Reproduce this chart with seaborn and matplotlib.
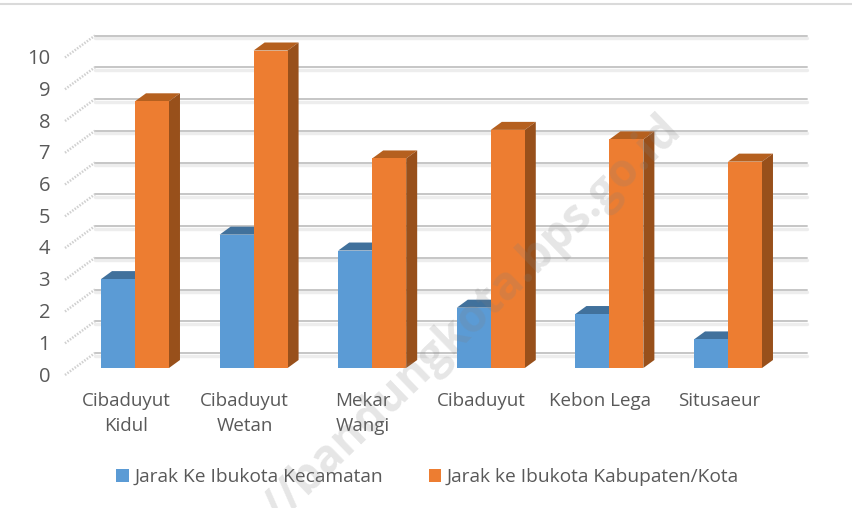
import pandas as pd
import numpy as np
import matplotlib
matplotlib.use('Agg')
import matplotlib.pyplot as plt
import matplotlib.transforms as mtrans
import seaborn as sns

# values
wilayah = ['Cibaduyut\nKidul', 'Cibaduyut\nWetan', 'Mekar\nWangi', 'Cibaduyut', 'Kebon Lega', 'Situsaeur']
jarak_kecamatan = [2.8, 4.2, 3.7, 1.9, 1.7, 0.9]
jarak_kota = [8.4, 10, 6.6, 7.5, 7.2, 6.5]
y_ticks = list(range(0, 11))
seri = ['Jarak Ke Ibukota Kecamatan', 'Jarak ke Ibukota Kabupaten/Kota']
warna = ['#5B9BD5', '#ED7D31']
warna_atas = ['#41719C', '#B5601F']
warna_sisi = ['#3F6E99', '#98501B']

sns.set_theme(style='white')
plt.rcParams['font.family'] = ['Open Sans', 'DejaVu Sans']

W, H = 853, 508
PX_X = 118.6   # pixels per category
PX_Y = 31.75   # pixels per unit
X0 = 135 - 0.5 * PX_X
Y0 = 368

df = pd.DataFrame({
    'wilayah': wilayah * 2,
    'jarak': jarak_kecamatan + jarak_kota,
    'seri': [seri[0]] * 6 + [seri[1]] * 6,
})

fig = plt.figure(figsize=(W / 100, H / 100), dpi=100)
ax = fig.add_axes([X0 / W, (H - Y0) / H, 6 * PX_X / W, 10 * PX_Y / H])

sns.barplot(data=df, x='wilayah', y='jarak', hue='seri', palette=warna, width=0.573,
            gap=0, saturation=1, linewidth=0, legend=False, ax=ax, zorder=3)
ax.set_xlim(-0.5, 5.5)
ax.set_ylim(0, 10)
ax.set_xlabel('')
ax.set_ylabel('')
sns.despine(ax=ax, left=True, bottom=True)
ax.patch.set_alpha(0)


def dx(px):
    return px / PX_X


def dy(px):
    return px / PX_Y


# back wall: gridlines and the dotted side wall lines
x_kiri = -0.5 + dx(95 - X0)
x_kanan = -0.5 + dx(807 - X0)
for v in y_ticks:
    ax.plot([x_kiri, x_kanan], [v + dy(15)] * 2, color='#C6C6C6', lw=1.4, zorder=1, clip_on=False)
    ax.plot([x_kiri, x_kanan], [v + dy(12.5)] * 2, color='#EDEDED', lw=2.4, zorder=0.9, clip_on=False)
    ax.plot([-0.5 + dx(65 - X0), x_kiri], [v + dy(-7), v + dy(15)], color='#D0D0D0', lw=1.8,
            ls=(0, (0.6, 0.6)), zorder=1, clip_on=False)

# depth of each bar
kedalaman_x, kedalaman_y = dx(11), dy(8)
for i, cont in enumerate(ax.containers):
    for bar in cont:
        bar.set_zorder(3 + i)
        x1, x2 = bar.get_x(), bar.get_x() + bar.get_width()
        h = bar.get_height()
        ax.fill([x1, x2, x2 + kedalaman_x, x1 + kedalaman_x],
                [h, h, h + kedalaman_y, h + kedalaman_y],
                color=warna_atas[i], lw=0, zorder=2.9 + i, clip_on=False)
        ax.fill([x2, x2 + kedalaman_x, x2 + kedalaman_x, x2],
                [0, kedalaman_y, h + kedalaman_y, h],
                color=warna_sisi[i], lw=0, zorder=2.9 + i, clip_on=False)

ax.set_yticks(y_ticks)
ax.tick_params(axis='y', length=0, pad=18.5, labelsize=14.5, labelcolor='#595959')
ax.tick_params(axis='x', length=0, pad=17, labelsize=13.5, labelcolor='#595959')
geser_y = mtrans.ScaledTranslation(0, -6 / 100, fig.dpi_scale_trans)
for t in ax.get_yticklabels():
    t.set_transform(t.get_transform() + geser_y)
geser_x = mtrans.ScaledTranslation(-9 / 100, 0, fig.dpi_scale_trans)
for t in ax.get_xticklabels():
    t.set_transform(t.get_transform() + geser_x)
    t.set_linespacing(1.55)

# legend under the chart
handles = [c[0] for c in ax.containers]
leg = fig.legend(handles, seri, loc='center', bbox_to_anchor=(427.5 / W, (H - 477) / H), ncol=2, frameon=False,
                 fontsize=13.8, labelcolor='#595959', handlelength=0.65, handleheight=0.65, handletextpad=0.28,
                 columnspacing=2.4, borderpad=0)

# line along the top edge and the watermark
fig.add_artist(plt.Line2D([0, 1], [(H - 4) / H] * 2, color='#DADADA', lw=1.5))
fig.text(674 / W, (H - 122) / H, 'http://bandungkota.bps.go.id', fontsize=33, fontweight='bold',
         color='#808080', alpha=0.2, rotation=44, rotation_mode='anchor', ha='right', va='center',
         family=['Open Sans', 'DejaVu Sans'], zorder=10)

fig.savefig('out.png', dpi=100)
plt.close(fig)
